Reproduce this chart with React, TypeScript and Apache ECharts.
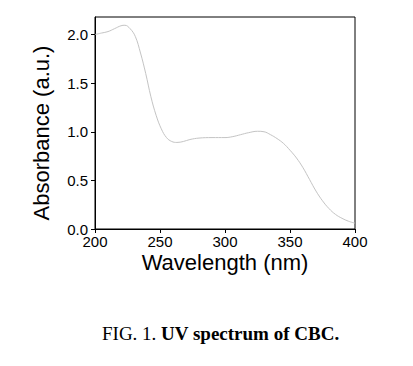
import React, { useEffect, useRef } from "react";
import * as echarts from "echarts";

const wavelengths = [200, 205, 210, 215, 220, 223, 227, 231, 235, 239, 243, 247, 251, 255, 259, 263, 268, 273, 280, 290, 300, 306, 312, 318, 325, 330, 335, 340, 345, 350, 355, 360, 365, 370, 375, 380, 385, 390, 395, 400];
const absorbance = [2.0, 2.015, 2.03, 2.06, 2.09, 2.095, 2.06, 1.98, 1.81, 1.6, 1.36, 1.17, 1.03, 0.94, 0.9, 0.89, 0.9, 0.92, 0.935, 0.94, 0.94, 0.95, 0.97, 0.99, 1.005, 1.0, 0.97, 0.93, 0.88, 0.81, 0.73, 0.63, 0.51, 0.39, 0.29, 0.21, 0.15, 0.11, 0.08, 0.06];
const yTicks = [0, 0.5, 1.0, 1.5, 2.0];
const xTicks = [200, 250, 300, 350, 400];

export default function App() {
  const ref = useRef<HTMLDivElement>(null);
  useEffect(() => {
    if (!ref.current) return;
    const chart = echarts.init(ref.current, null, { renderer: "svg" });
    const font = "Liberation Sans, Arial, sans-serif";
    const serif = "Liberation Serif, Times New Roman, serif";
    chart.setOption({
      animation: false,
      grid: {
        left: 95,
        right: 58,
        top: 17,
        bottom: 137,
        show: true,
        borderColor: "#000",
        borderWidth: 1,
        backgroundColor: "transparent",
      },
      xAxis: {
        type: "value",
        min: 200,
        max: 400,
        interval: 50,
        axisLine: { show: true, lineStyle: { color: "#000", width: 1 } },
        axisTick: { show: true, length: 4, lineStyle: { color: "#000" }, customValues: xTicks },
        axisLabel: { color: "#000", fontSize: 15, fontFamily: font, margin: 5, customValues: xTicks },
        splitLine: { show: false },
      },
      yAxis: {
        type: "value",
        min: 0,
        max: 2.18,
        axisLine: { show: true, lineStyle: { color: "#000", width: 1 } },
        axisTick: { show: true, length: 4, lineStyle: { color: "#000" }, customValues: yTicks },
        axisLabel: {
          color: "#000",
          fontSize: 15,
          fontFamily: font,
          margin: 7,
          customValues: yTicks,
          formatter: (v: number) => v.toFixed(1),
        },
        splitLine: { show: false },
      },
      graphic: [
        {
          type: "text",
          x: 41,
          y: 133,
          rotation: Math.PI / 2,
          style: {
            text: "Absorbance (a.u.)",
            fontSize: 22,
            fontFamily: font,
            fill: "#000",
            align: "center",
            verticalAlign: "middle",
          },
        },
        {
          type: "text",
          x: 225,
          y: 262,
          style: {
            text: "Wavelength (nm)",
            fontSize: 22,
            fontFamily: font,
            fill: "#000",
            align: "center",
            verticalAlign: "middle",
          },
        },
      ],
      title: {
        text: "{n|FIG. 1. }{b|UV spectrum of CBC.}",
        left: 102,
        top: 324,
        padding: 0,
        textStyle: {
          rich: {
            n: { fontFamily: serif, fontSize: 19, fontWeight: "normal", color: "#000" },
            b: { fontFamily: serif, fontSize: 19, fontWeight: "bold", color: "#000" },
          },
        },
      },
      series: [
        {
          type: "line",
          data: wavelengths.map((w, i) => [w, absorbance[i]]),
          smooth: 0.4,
          showSymbol: false,
          lineStyle: { color: "#c4c4c4", width: 1 },
          itemStyle: { color: "#c4c4c4" },
        },
      ],
    });
    return () => chart.dispose();
  }, []);
  return <div ref={ref} style={{ position: "fixed", left: 0, top: 0, width: 413, height: 366, background: "#fff" }} />;
}
